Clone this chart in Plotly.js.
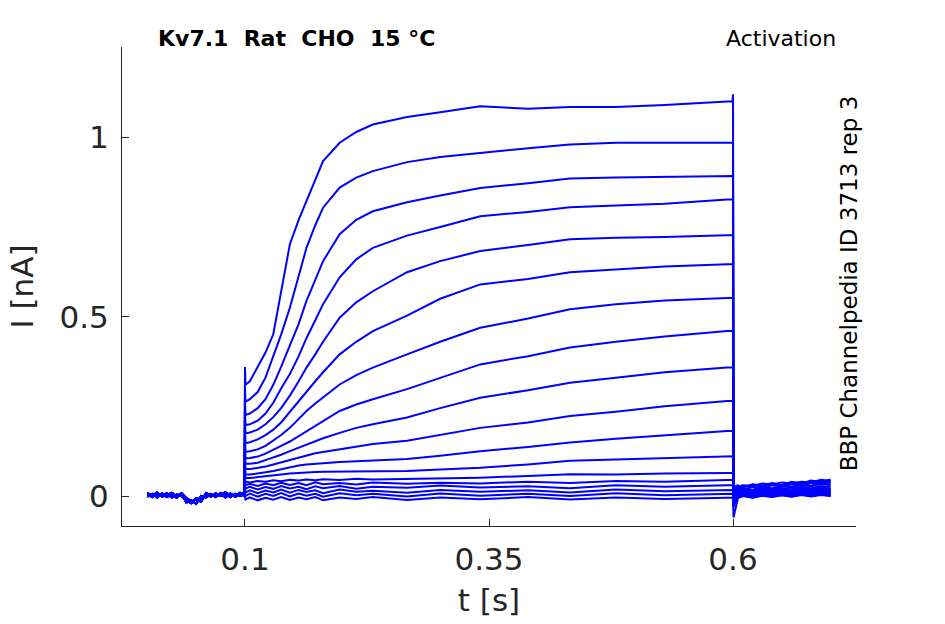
<!DOCTYPE html>
<html>
<head>
<meta charset="utf-8">
<script src="https://cdn.plot.ly/plotly-3.0.1.min.js"></script>
<style>html,body{margin:0;padding:0;background:#fff;}</style>
</head>
<body>
<div id="chart" style="width:945px;height:624px;"></div>
<script>
// ---- data (time in s, current in nA) ----
var preT = [0, 0.005, 0.01, 0.015, 0.02, 0.025, 0.03, 0.035, 0.04, 0.045, 0.05, 0.055, 0.06, 0.065, 0.07, 0.075, 0.08, 0.085, 0.09, 0.095, 0.0995];
var preA = [0.005, -0.003, 0.006, 0.0, 0.008, -0.004, 0.004, 0.0, -0.012, -0.02, -0.006, -0.01, 0.004, -0.002, 0.007, 0.0, 0.005, -0.003, 0.006, 0.001, 0.004];
var preB = [-0.002, 0.006, -0.004, 0.007, -0.003, 0.005, -0.005, 0.006, -0.018, -0.012, -0.022, 0.0, -0.004, 0.006, -0.003, 0.008, -0.004, 0.007, -0.002, 0.006, 0.0];
var preC = [0.008, 0.001, 0.01, -0.002, 0.003, 0.009, 0.0, 0.008, -0.006, -0.015, -0.01, -0.016, 0.008, 0.002, 0.0, 0.006, 0.01, 0.002, 0.0, 0.009, 0.006];

var stepT = [0.1, 0.1005, 0.105, 0.113, 0.121, 0.129, 0.137, 0.146, 0.155, 0.163, 0.172, 0.18, 0.197, 0.214, 0.231, 0.266, 0.3, 0.341, 0.39, 0.433, 0.48, 0.53, 0.594, 0.5995, 0.6];
var step1  = [0.36, 0.31, 0.32, 0.36, 0.40, 0.451, 0.57, 0.702, 0.77, 0.822, 0.885, 0.934, 0.985, 1.015, 1.036, 1.057, 1.07, 1.087, 1.08, 1.085, 1.085, 1.09, 1.10, 1.10, 1.12];
var step2  = [0.30, 0.263, 0.27, 0.29, 0.33, 0.39, 0.45, 0.525, 0.615, 0.692, 0.755, 0.804, 0.86, 0.888, 0.906, 0.931, 0.945, 0.957, 0.97, 0.98, 0.985, 0.985, 0.985, 0.985, 0.985];
var step3  = [0.27, 0.226, 0.23, 0.245, 0.27, 0.31, 0.36, 0.42, 0.48, 0.544, 0.60, 0.655, 0.73, 0.77, 0.794, 0.819, 0.838, 0.859, 0.872, 0.885, 0.888, 0.89, 0.892, 0.892, 0.892];
var step4  = [0.24, 0.198, 0.2, 0.21, 0.23, 0.26, 0.30, 0.34, 0.39, 0.44, 0.49, 0.535, 0.61, 0.66, 0.692, 0.726, 0.75, 0.78, 0.792, 0.805, 0.81, 0.815, 0.827, 0.827, 0.827];
var step5  = [0.21, 0.175, 0.177, 0.185, 0.2, 0.22, 0.245, 0.28, 0.32, 0.358, 0.395, 0.43, 0.497, 0.54, 0.571, 0.624, 0.655, 0.683, 0.70, 0.716, 0.72, 0.722, 0.727, 0.727, 0.727];
var step6  = [0.19, 0.147, 0.15, 0.158, 0.17, 0.185, 0.205, 0.235, 0.265, 0.293, 0.32, 0.345, 0.395, 0.43, 0.46, 0.503, 0.55, 0.59, 0.605, 0.624, 0.632, 0.64, 0.646, 0.646, 0.646];
var step7  = [0.16, 0.123, 0.125, 0.13, 0.14, 0.155, 0.17, 0.19, 0.215, 0.237, 0.258, 0.275, 0.311, 0.337, 0.358, 0.395, 0.43, 0.469, 0.495, 0.521, 0.535, 0.545, 0.553, 0.553, 0.553];
var step8  = [0.14, 0.105, 0.106, 0.11, 0.118, 0.128, 0.14, 0.152, 0.167, 0.181, 0.197, 0.21, 0.237, 0.255, 0.27, 0.298, 0.33, 0.367, 0.39, 0.414, 0.43, 0.445, 0.46, 0.46, 0.46];
var step9  = [0.12, 0.09, 0.09, 0.093, 0.1, 0.107, 0.115, 0.125, 0.135, 0.144, 0.153, 0.161, 0.176, 0.19, 0.2, 0.219, 0.245, 0.274, 0.295, 0.316, 0.33, 0.345, 0.358, 0.358, 0.358];
var step10 = [0.1, 0.075, 0.075, 0.078, 0.082, 0.088, 0.094, 0.1, 0.108, 0.114, 0.119, 0.123, 0.13, 0.138, 0.145, 0.154, 0.17, 0.19, 0.205, 0.223, 0.235, 0.25, 0.265, 0.265, 0.265];
var step11 = [0.09, 0.06, 0.06, 0.062, 0.066, 0.07, 0.075, 0.08, 0.085, 0.088, 0.09, 0.092, 0.095, 0.097, 0.099, 0.103, 0.112, 0.125, 0.137, 0.149, 0.16, 0.17, 0.181, 0.181, 0.181];
var step12 = [0.07, 0.05, 0.05, 0.052, 0.055, 0.058, 0.06, 0.063, 0.065, 0.066, 0.067, 0.068, 0.068, 0.069, 0.07, 0.07, 0.074, 0.079, 0.088, 0.098, 0.102, 0.106, 0.111, 0.111, 0.111];
var step13 = [0.05, 0.04, 0.038, 0.042, 0.04, 0.044, 0.041, 0.045, 0.043, 0.046, 0.044, 0.047, 0.045, 0.048, 0.046, 0.047, 0.05, 0.051, 0.056, 0.061, 0.06, 0.063, 0.064, 0.064, 0.064];
var step14 = [0.04, 0.03, 0.034, 0.028, 0.035, 0.03, 0.037, 0.031, 0.036, 0.03, 0.038, 0.033, 0.036, 0.032, 0.038, 0.034, 0.037, 0.035, 0.04, 0.036, 0.042, 0.04, 0.045, 0.045, 0.045];
var step15 = [0.03, 0.02, 0.026, 0.018, 0.025, 0.02, 0.028, 0.021, 0.026, 0.019, 0.027, 0.022, 0.028, 0.02, 0.026, 0.023, 0.029, 0.024, 0.027, 0.022, 0.03, 0.026, 0.03, 0.03, 0.03];
var step16 = [0.02, 0.01, 0.016, 0.008, 0.015, 0.01, 0.018, 0.009, 0.017, 0.011, 0.016, 0.008, 0.018, 0.012, 0.015, 0.009, 0.017, 0.012, 0.016, 0.01, 0.018, 0.013, 0.017, 0.017, 0.017];
var step17 = [0.01, 0.0, 0.007, -0.002, 0.006, 0.0, 0.008, -0.001, 0.007, 0.001, 0.006, -0.002, 0.008, 0.002, 0.006, -0.001, 0.007, 0.001, 0.006, 0.0, 0.008, 0.002, 0.006, 0.006, 0.006];
var step18 = [0.0, -0.01, -0.004, -0.012, -0.005, -0.01, -0.003, -0.011, -0.004, -0.009, -0.003, -0.012, -0.004, -0.008, -0.003, -0.011, -0.004, -0.009, -0.003, -0.01, -0.004, -0.008, -0.005, -0.005, -0.005];

var tailT = [0.6005, 0.605, 0.61, 0.62, 0.63, 0.64, 0.65, 0.66, 0.67, 0.68, 0.69, 0.7];
var tail1  = [0.02, 0.025, 0.03, 0.028, 0.035, 0.032, 0.038, 0.035, 0.04, 0.038, 0.045, 0.042];
var tail2  = [0.015, 0.022, 0.026, 0.03, 0.027, 0.034, 0.03, 0.037, 0.033, 0.041, 0.036, 0.04];
var tail3  = [0.012, 0.02, 0.018, 0.025, 0.022, 0.03, 0.026, 0.033, 0.029, 0.036, 0.032, 0.038];
var tail4  = [0.01, 0.015, 0.02, 0.016, 0.024, 0.02, 0.028, 0.024, 0.031, 0.027, 0.034, 0.03];
var tail5  = [0.008, 0.012, 0.016, 0.012, 0.02, 0.016, 0.022, 0.019, 0.026, 0.022, 0.028, 0.025];
var tail6  = [0.005, 0.01, 0.013, 0.01, 0.016, 0.012, 0.019, 0.015, 0.021, 0.018, 0.024, 0.02];
var tail7  = [0.004, 0.008, 0.011, 0.007, 0.013, 0.01, 0.016, 0.012, 0.018, 0.014, 0.02, 0.017];
var tail8  = [0.002, 0.006, 0.009, 0.005, 0.011, 0.007, 0.013, 0.009, 0.015, 0.011, 0.017, 0.014];
var tail9  = [0.0, 0.004, 0.007, 0.003, 0.009, 0.005, 0.011, 0.007, 0.013, 0.009, 0.014, 0.011];
var tail10 = [-0.002, 0.003, 0.005, 0.001, 0.007, 0.003, 0.009, 0.005, 0.01, 0.006, 0.012, 0.008];
var tail11 = [-0.004, 0.001, 0.004, 0.0, 0.005, 0.001, 0.007, 0.003, 0.008, 0.004, 0.01, 0.006];
var tail12 = [-0.01, 0.0, 0.003, -0.002, 0.004, 0.0, 0.005, 0.001, 0.006, 0.002, 0.007, 0.004];
var tail13 = [-0.02, -0.002, 0.002, -0.003, 0.003, -0.001, 0.004, 0.0, 0.005, 0.001, 0.006, 0.002];
var tail14 = [0.025, 0.03, 0.024, 0.033, 0.029, 0.036, 0.031, 0.04, 0.035, 0.043, 0.039, 0.046];
var tail15 = [0.018, 0.012, 0.022, 0.017, 0.026, 0.021, 0.03, 0.025, 0.034, 0.028, 0.037, 0.032];
var tail16 = [0.006, 0.002, 0.01, 0.006, 0.014, 0.009, 0.017, 0.012, 0.02, 0.015, 0.022, 0.018];
var tail17 = [-0.03, -0.004, 0.001, -0.004, 0.002, -0.002, 0.003, -0.001, 0.004, 0.0, 0.004, 0.001];
var tail18 = [-0.06, -0.006, 0.0, -0.005, 0.001, -0.003, 0.002, -0.002, 0.003, -0.001, 0.003, 0.0];

var steps = [step1, step2, step3, step4, step5, step6, step7, step8, step9, step10, step11, step12, step13, step14, step15, step16, step17, step18];
var tails = [tail1, tail2, tail3, tail4, tail5, tail6, tail7, tail8, tail9, tail10, tail11, tail12, tail13, tail14, tail15, tail16, tail17, tail18];
var pres = [preA, preB, preC];

var xTicks = [0.1, 0.35, 0.6];
var xTickText = ['0.1', '0.35', '0.6'];
var yTicks = [0, 0.5, 1];
var yTickText = ['0', '0.5', '1'];

var titleText = '<b>Kv7.1  Rat  CHO  15 °C</b>';
var protocolText = 'Activation';
var sourceText = 'BBP Channelpedia ID 3713 rep 3';

// ---- traces ----
var traces = steps.map(function (s, i) {
  return {
    type: 'scatter', mode: 'lines',
    x: preT.concat(stepT, tailT),
    y: pres[i % 3].concat(s, tails[i]),
    line: {color: '#0000ff', width: 2},
    hoverinfo: 'skip'
  };
});

var txtColor = '#262626';
var baseFont = {family: 'DejaVu Sans, sans-serif', size: 31, color: txtColor};

var layout = {
  width: 945, height: 624,
  margin: {l: 122, r: 89, t: 47, b: 98, pad: 0},
  paper_bgcolor: '#ffffff', plot_bgcolor: '#ffffff',
  showlegend: false,
  font: {family: 'DejaVu Sans, sans-serif', color: txtColor},
  xaxis: {
    range: [-0.026, 0.726], tickvals: xTicks, ticktext: xTickText,
    ticks: 'inside', ticklen: 7, tickwidth: 1, tickcolor: txtColor,
    showline: true, linecolor: txtColor, linewidth: 1,
    showgrid: false, zeroline: false, tickfont: baseFont,
    ticklabelstandoff: 6,
    title: {text: 't [s]', font: baseFont, standoff: 13}
  },
  yaxis: {
    range: [-0.0836, 1.252], tickvals: yTicks, ticktext: yTickText,
    ticks: 'inside', ticklen: 7, tickwidth: 1, tickcolor: txtColor,
    showline: true, linecolor: txtColor, linewidth: 1,
    showgrid: false, zeroline: false, tickfont: baseFont,
    ticklabelstandoff: 6,
    title: {text: 'I [nA]', font: baseFont, standoff: 16}
  },
  annotations: [
    {text: titleText, xref: 'paper', yref: 'paper', x: 0.047, y: 1.017, xanchor: 'left', yanchor: 'middle',
     showarrow: false, font: {family: 'DejaVu Sans, sans-serif', size: 22, color: '#000000'}},
    {text: protocolText, xref: 'paper', yref: 'paper', x: 0.976, y: 1.017, xanchor: 'right', yanchor: 'middle',
     showarrow: false, font: {family: 'DejaVu Sans, sans-serif', size: 22, color: '#000000'}},
    {text: sourceText, xref: 'paper', yref: 'paper', x: 0.990, y: 0.506, xanchor: 'center', yanchor: 'middle',
     textangle: -90, showarrow: false, font: {family: 'DejaVu Sans, sans-serif', size: 23, color: '#000000'}}
  ]
};

Plotly.newPlot('chart', traces, layout, {staticPlot: true, displayModeBar: false});
</script>
</body>
</html>
